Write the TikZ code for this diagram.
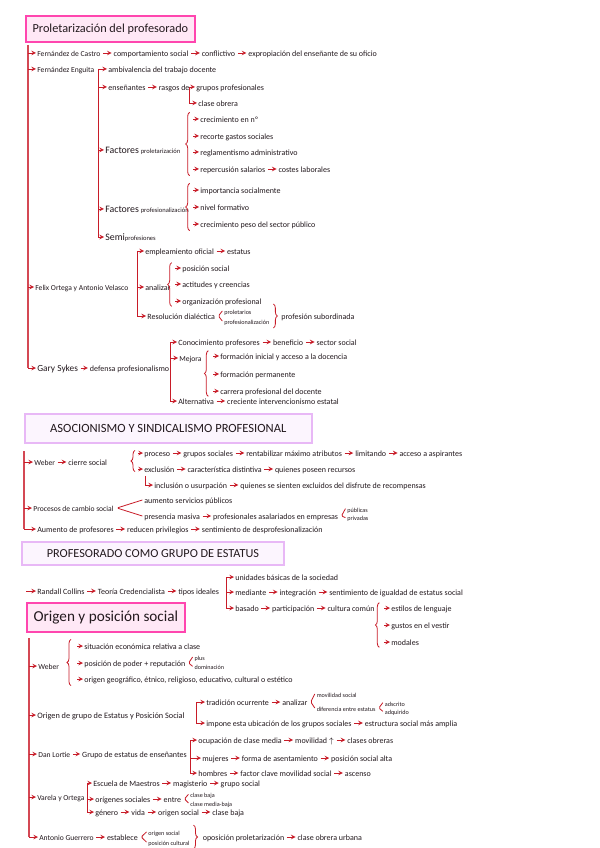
\documentclass[tikz,border=0pt]{standalone}
\usepackage{fontspec}
\setmainfont{Carlito}
\usepackage{xcolor}
\definecolor{ink}{RGB}{35,25,30}
\definecolor{arr}{RGB}{200,28,40}
\definecolor{trk}{RGB}{212,72,84}
\definecolor{pinkline}{RGB}{255,70,175}
\definecolor{pinkfill}{RGB}{255,232,246}
\definecolor{lilacline}{RGB}{232,184,246}
\definecolor{lilacfill}{RGB}{252,245,254}
\usepackage{tikz}
\usetikzlibrary{positioning, calc, arrows, decorations.pathreplacing}
\newcommand\bigf{\fontsize{7.4}{8}\selectfont}
\newcommand\smf{\fontsize{4.9}{6}\selectfont}
\tikzstyle{lbl} = [
    anchor=west, inner sep=.8pt,
    text=ink, text height=1.4ex, text depth=.35ex,
    font=\fontsize{6}{7}\selectfont,
]
\tikzstyle{hd} = [lbl, font=\fontsize{5.7}{7}\selectfont]
\tikzstyle{mini} = [lbl, font=\fontsize{4.6}{5}\selectfont]
\tikzstyle{ttl} = [
    rectangle, anchor=west, text=ink,
    line width=1.4pt, inner xsep=5pt,
]
\tikzstyle{ttlpink} = [ttl, draw=pinkline, fill=pinkfill]
\tikzstyle{ttllilac} = [ttl, draw=lilacline, fill=lilacfill]
\tikzstyle{arrow} = [->, >=stealth, draw=arr, line width=.55pt]
\tikzstyle{trunk} = [draw=trk, line width=.9pt]
\tikzstyle{branch} = [draw=arr, line width=.6pt]
\tikzstyle{brc} = [draw=arr, line width=.6pt, decorate, decoration={brace, amplitude=3pt}]
\tikzstyle{fork} = [draw=arr, line width=.6pt, rounded corners=1pt]

\begin{document}
\begin{tikzpicture}[x=.75pt, y=-.75pt]
    \fill[white] (0,0) rectangle (599,848);
    \useasboundingbox (0,0) rectangle (599,848);

    % Proletarizacion del profesorado
    \node[ttlpink, minimum width=126pt, minimum height=20pt, font=\fontsize{9.2}{11}\selectfont] (t1) at (25,29) {Proletarización del profesorado};
    \coordinate (s1) at (28,45);
    \node[hd] (fc) at (36,53) {Fernández de Castro};
    \node[lbl, right=8pt of fc] (fc1) {comportamiento social};
    \node[lbl, right=8pt of fc1] (fc2) {conflictivo};
    \node[lbl, right=8pt of fc2] (fc3) {expropiación del enseñante de su oficio};

    \node[hd] (fe) at (36,69) {Fernández Enguita};
    \coordinate (fel) at (98,69);
    \node[lbl] (fe1) at (107,69) {ambivalencia del trabajo docente};
    \node[lbl] (fe2) at (107,87) {enseñantes};
    \node[lbl, right=8pt of fe2] (fe2a) {rasgos de};
    \coordinate (rl) at (189,87);
    \node[lbl] (fe2b) at (195,87) {grupos profesionales};
    \node[lbl] (fe2c) at (197,103) {clase obrera};
    \node[lbl] (fe3) at (104,150) {{\bigf Factores} {\smf proletarización}};
    \node[lbl] (fp1) at (199,119) {crecimiento en nº};
    \node[lbl] (fp2) at (199,136) {recorte gastos sociales};
    \node[lbl] (fp3) at (199,152) {reglamentismo administrativo};
    \node[lbl] (fp4) at (199,169) {repercusión salarios};
    \node[lbl, right=8pt of fp4] (fp4a) {costes laborales};
    \node[lbl] (fe4) at (104,209) {{\bigf Factores} {\smf profesionalización}};
    \node[lbl] (fq1) at (199,190) {importancia socialmente};
    \node[lbl] (fq2) at (199,207) {nivel formativo};
    \node[lbl] (fq3) at (199,224) {crecimiento peso del sector público};
    \node[lbl] (fe5) at (104,237) {{\bigf Semi}{\smf profesiones}};

    \node[hd] (fo) at (34,287) {Felix Ortega y Antonio Velasco};
    \coordinate (fol) at (137,251);
    \node[lbl] (fo1) at (144,251) {empleamiento oficial};
    \node[lbl, right=8pt of fo1] (fo1a) {estatus};
    \node[lbl] (fo2) at (144,287) {analizar};
    \node[lbl] (fo3) at (181,268) {posición social};
    \node[lbl] (fo4) at (181,284) {actitudes y creencias};
    \node[lbl] (fo5) at (181,301) {organización profesional};
    \node[lbl] (fo6) at (146,316) {Resolución dialéctica};
    \node[mini, right=5pt of fo6, yshift=3.8pt] (fo7) {proletarios};
    \node[mini, right=5pt of fo6, yshift=-3.8pt] (fo8) {profesionalización};
    \node[lbl] (fo9) at ([xshift=7pt]fo8.east |- fo6.west) {profesión subordinada};

    \node[hd] (gs) at (36,368) {{\fontsize{7}{8}\selectfont Gary Sykes}};
    \node[lbl, right=7pt of gs] (gs1) {defensa profesionalismo};
    \coordinate (gsl) at (170,342);
    \node[lbl] (gs2) at (177,342) {Conocimiento profesores};
    \node[lbl, right=8pt of gs2] (gs2a) {beneficio};
    \node[lbl, right=8pt of gs2a] (gs2b) {sector social};
    \node[hd] (gs3) at (178,358) {Mejora};
    \node[lbl] (gs4) at (219,356) {formación inicial y acceso a la docencia};
    \node[lbl] (gs5) at (219,374) {formación permanente};
    \node[lbl] (gs6) at (219,391) {carrera profesional del docente};
    \node[lbl] (gs7) at (177,401) {Alternativa};
    \node[lbl, right=8pt of gs7] (gs7a) {creciente intervencionismo estatal};

    % Asociacionismo
    \node[ttllilac, minimum width=215pt, minimum height=21.5pt, font=\fontsize{9.4}{11}\selectfont] (t2) at (24,428.5) {ASOCIONISMO Y SINDICALISMO PROFESIONAL};
    \coordinate (s2) at (24,451);
    \node[hd] (wb) at (33,462) {Weber};
    \node[lbl, right=8pt of wb] (wb1) {cierre social};
    \node[lbl] (wb2) at (143,453) {proceso};
    \node[lbl, right=8pt of wb2] (wb2a) {grupos sociales};
    \node[lbl, right=8pt of wb2a] (wb2b) {rentabilizar máximo atributos};
    \node[lbl, right=8pt of wb2b] (wb2c) {limitando};
    \node[lbl, right=8pt of wb2c] (wb2d) {acceso a aspirantes};
    \node[lbl] (wb3) at (143,469) {exclusión};
    \node[lbl, right=8pt of wb3] (wb3a) {característica distintiva};
    \node[lbl, right=8pt of wb3a] (wb3b) {quienes poseen recursos};
    \node[lbl] (wb4) at (153,485) {inclusión o usurpación};
    \node[lbl, right=8pt of wb4] (wb4a) {quienes se sienten excluidos del disfrute de recompensas};
    \node[hd] (pc) at (32,508) {Procesos de cambio social};
    \node[lbl] (pc1) at (143,500) {aumento servicios públicos};
    \node[lbl] (pc2) at (143,516) {presencia masiva};
    \node[lbl, right=8pt of pc2] (pc2a) {profesionales asalariados en empresas};
    \node[mini, right=5pt of pc2a, yshift=5.5pt] (pc3) {públicas};
    \node[mini, right=5pt of pc2a, yshift=-1.2pt] (pc4) {privadas};
    \node[lbl] (am) at (36,529) {Aumento de profesores};
    \node[lbl, right=8pt of am] (am1) {reducen privilegios};
    \node[lbl, right=8pt of am1] (am2) {sentimiento de desprofesionalización};

    % Profesorado como grupo de estatus
    \node[ttllilac, minimum width=196.5pt, minimum height=17pt, font=\fontsize{9.2}{11}\selectfont] (t3) at (21,553.5) {PROFESORADO COMO GRUPO DE ESTATUS};
    \coordinate (s3) at (26,591);
    \node[lbl] (rc) at (36,591) {Randall Collins};
    \node[lbl, right=8pt of rc] (rc1) {Teoría Credencialista};
    \node[lbl, right=8pt of rc1] (rc2) {tipos ideales};
    \coordinate (rcl) at (226,577);
    \node[lbl] (rc3) at (234,577) {unidades básicas de la sociedad};
    \node[lbl] (rc4) at (234,592) {mediante};
    \node[lbl, right=8pt of rc4] (rc4a) {integración};
    \node[lbl, right=8pt of rc4a] (rc4b) {sentimiento de igualdad de estatus social};
    \node[lbl] (rc5) at (234,608) {basado};
    \node[lbl, right=8pt of rc5] (rc5a) {participación};
    \node[lbl, right=8pt of rc5a] (rc5b) {cultura común};
    \node[lbl] (rc6) at (390,608) {estilos de lenguaje};
    \node[lbl] (rc7) at (390,625) {gustos en el vestir};
    \node[lbl] (rc8) at (390,642) {modales};

    % Origen y posicion social
    \node[ttlpink, minimum width=117.75pt, minimum height=21.75pt, font=\fontsize{11.4}{13}\selectfont] (t4) at (26,617.5) {Origen y posición social};
    \coordinate (s4) at (29,638);
    \node[hd] (ow) at (37,666) {Weber};
    \node[lbl] (ow1) at (83,646) {situación económica relativa a clase};
    \node[lbl] (ow2) at (83,663) {posición de poder + reputación};
    \node[mini, right=5pt of ow2, yshift=4.5pt] (ow3) {plus};
    \node[mini, right=5pt of ow2, yshift=-2.5pt] (ow4) {dominación};
    \node[lbl] (ow5) at (83,679) {origen geográfico, étnico, religioso, educativo, cultural o estético};

    \node[hd, font=\fontsize{6.2}{7}\selectfont] (og) at (36,715) {Origen de grupo de Estatus y Posición Social};
    \coordinate (ogl) at (196,702);
    \node[lbl] (og1) at (205,702) {tradición ocurrente};
    \node[lbl, right=8pt of og1] (og1a) {analizar};
    \node[mini, right=5pt of og1a, yshift=6pt] (og3) {movilidad social};
    \node[mini, right=5pt of og1a, yshift=-4.5pt] (og4) {diferencia entre estatus};
    \node[mini, right=5pt of og4, yshift=4pt] (og5) {adscrito};
    \node[mini, right=5pt of og4, yshift=-2.5pt] (og6) {adquirido};
    \node[lbl] (og2) at (205,723) {impone esta ubicación de los grupos sociales};
    \node[lbl, right=8pt of og2] (og2a) {estructura social más amplia};

    \node[hd] (dl) at (37,754) {Dan Lortie};
    \node[lbl, right=7pt of dl] (dl1) {Grupo de estatus de enseñantes};
    \coordinate (dll) at (190,740);
    \node[lbl] (dl2) at (197,740) {ocupación de clase media};
    \node[lbl, right=8pt of dl2] (dl2a) {movilidad $\uparrow$};
    \node[lbl, right=8pt of dl2a] (dl2b) {clases obreras};
    \node[lbl] (dl3) at (201,758) {mujeres};
    \node[lbl, right=8pt of dl3] (dl3a) {forma de asentamiento};
    \node[lbl, right=8pt of dl3a] (dl3b) {posición social alta};
    \node[lbl] (dl4) at (197,773) {hombres};
    \node[lbl, right=8pt of dl4] (dl4a) {factor clave movilidad social};
    \node[lbl, right=8pt of dl4a] (dl4b) {ascenso};

    \node[hd] (vo) at (36,797) {Varela y Ortega};
    \coordinate (vol) at (87,783);
    \node[lbl] (vo1) at (92,783) {Escuela de Maestros};
    \node[lbl, right=8pt of vo1] (vo1a) {magisterio};
    \node[lbl, right=8pt of vo1a] (vo1b) {grupo social};
    \node[lbl] (vo2) at (94,799) {orígenes sociales};
    \node[lbl, right=8pt of vo2] (vo2a) {entre};
    \node[mini, right=5pt of vo2a, yshift=3.5pt] (vo3) {clase baja};
    \node[mini, right=5pt of vo2a, yshift=-3pt] (vo4) {clase media-baja};
    \node[lbl] (vo5) at (94,812) {género};
    \node[lbl, right=8pt of vo5] (vo5a) {vida};
    \node[lbl, right=8pt of vo5a] (vo5b) {origen social};
    \node[lbl, right=8pt of vo5b] (vo5c) {clase baja};

    \node[hd] (ag) at (38,837) {Antonio Guerrero};
    \node[lbl, right=8pt of ag] (ag1) {establece};
    \node[mini, right=6pt of ag1, yshift=3.8pt] (ag2) {origen social};
    \node[mini, right=6pt of ag1, yshift=-3.8pt] (ag3) {posición cultural};
    \node[lbl] (ag4) at ([xshift=8pt]ag3.east |- ag1.west) {oposición proletarización};
    \node[lbl, right=8pt of ag4] (ag4a) {clase obrera urbana};

    % trunks
    \draw[trunk] (s1) -- (s1 |- gs.west);
    \draw[trunk] (s2) -- (s2 |- am.west);
    \draw[trunk] (s4) -- (s4 |- ag.west);
    \foreach \n in {fc,fe,fo,gs} \draw[arrow] (s1 |- \n.west) -- (\n.west);
    \foreach \n in {wb,pc,am} \draw[arrow] (s2 |- \n.west) -- (\n.west);
    \draw[arrow] (s3) -- (rc.west);
    \foreach \n in {ow,og,dl,vo,ag} \draw[arrow] (s4 |- \n.west) -- (\n.west);

    % branches
    \draw[branch] (fel) -- (fel |- fe5.west);
    \foreach \n in {fe1,fe2,fe3,fe4,fe5} \draw[arrow] (fel |- \n.west) -- (\n.west);
    \draw[arrow] (rl) -- (fe2b.west);
    \draw[arrow] (rl) |- (fe2c.west);
    \draw[branch] (fol) -- (fol |- fo6.west);
    \foreach \n in {fo1,fo2,fo6} \draw[arrow] (fol |- \n.west) -- (\n.west);
    \draw[branch] (gsl) -- (gsl |- gs7.west);
    \foreach \n in {gs2,gs3,gs7} \draw[arrow] (gsl |- \n.west) -- (\n.west);
    \draw[branch] (rcl) -- (rcl |- rc5.west);
    \foreach \n in {rc3,rc4,rc5} \draw[arrow] (rcl |- \n.west) -- (\n.west);
    \draw[branch] (ogl) -- (ogl |- og2.west);
    \foreach \n in {og1,og2} \draw[arrow] (ogl |- \n.west) -- (\n.west);
    \draw[branch] (dll) -- (dll |- dl4.west);
    \foreach \n in {dl2,dl3,dl4} \draw[arrow] (dll |- \n.west) -- (\n.west);
    \draw[branch] (vol) -- (vol |- vo5.west);
    \foreach \n in {vo1,vo2,vo5} \draw[arrow] (vol |- \n.west) -- (\n.west);
    \draw[arrow] ([xshift=2pt]wb3.south west) |- (wb4.west);

    % braces
    \draw[brc] ([xshift=-7pt,yshift=-5pt]fp4.west) -- ([xshift=-7pt,yshift=5pt]fp1.west);
    \draw[brc] ([xshift=-7pt,yshift=-5pt]fq3.west) -- ([xshift=-7pt,yshift=5pt]fq1.west);
    \draw[brc] ([xshift=-7pt,yshift=-4pt]fo5.west) -- ([xshift=-7pt,yshift=4pt]fo3.west);
    \draw[brc] ([xshift=-8pt,yshift=-4pt]gs6.west) -- ([xshift=-8pt,yshift=4pt]gs4.west);
    \draw[brc] ([xshift=-6pt,yshift=-2pt]wb3.west) -- ([xshift=-6pt,yshift=2pt]wb2.west);
    \draw[brc] ([xshift=-8pt,yshift=-4pt]rc8.west) -- ([xshift=-8pt,yshift=4pt]rc6.west);
    \draw[brc] ([xshift=-9pt,yshift=-5pt]ow5.west) -- ([xshift=-9pt,yshift=5pt]ow1.west);
    \draw[brc] ([xshift=2pt]fo8.east |- fo7.north) -- ([xshift=2pt]fo8.south east);
    \draw[brc] ([xshift=2pt]ag3.east |- ag2.north) -- ([xshift=2pt]ag3.south east);
    \foreach \n in {fp1,fp2,fp3,fp4,fq1,fq2,fq3,fo3,fo4,fo5,gs4,gs5,gs6,rc6,rc7,rc8,ow1,ow2,ow5}
        \draw[arrow] ([xshift=-4.5pt]\n.west) -- (\n.west);
    \foreach \n in {wb2,wb3} \draw[arrow] ([xshift=-3.5pt]\n.west) -- (\n.west);

    % forks
    \foreach \a/\t/\b in {fo6/fo7/fo8, pc2a/pc3/pc4, ow2/ow3/ow4, og1a/og3/og4, og4/og5/og6, vo2a/vo3/vo4, ag1/ag2/ag3}
        \draw[fork] ([xshift=-.5pt]\t.west) -- ([xshift=1.5pt]\a.east) -- ([xshift=-.5pt]\b.west);
    \draw[fork] ([xshift=-.5pt]pc1.west) -- ([xshift=1.5pt]pc.east) -- ([xshift=-.5pt]pc2.west);

    % inline arrows
    \foreach \a/\b in {fc/fc1, fc1/fc2, fc2/fc3, fe2/fe2a, fp4/fp4a, fo1/fo1a, gs/gs1, gs2/gs2a, gs2a/gs2b, gs7/gs7a,
        wb/wb1, wb2/wb2a, wb2a/wb2b, wb2b/wb2c, wb2c/wb2d, wb3/wb3a, wb3a/wb3b, wb4/wb4a, pc2/pc2a, am/am1, am1/am2,
        rc/rc1, rc1/rc2, rc4/rc4a, rc4a/rc4b, rc5/rc5a, rc5a/rc5b, og1/og1a, og2/og2a,
        dl/dl1, dl2/dl2a, dl2a/dl2b, dl3/dl3a, dl3a/dl3b, dl4/dl4a, dl4a/dl4b,
        vo1/vo1a, vo1a/vo1b, vo2/vo2a, vo5/vo5a, vo5a/vo5b, vo5b/vo5c, ag/ag1, ag4/ag4a}
        \draw[arrow, shorten <=1pt, shorten >=.5pt] (\a.east) -- (\b.west);

\end{tikzpicture}
\end{document}
